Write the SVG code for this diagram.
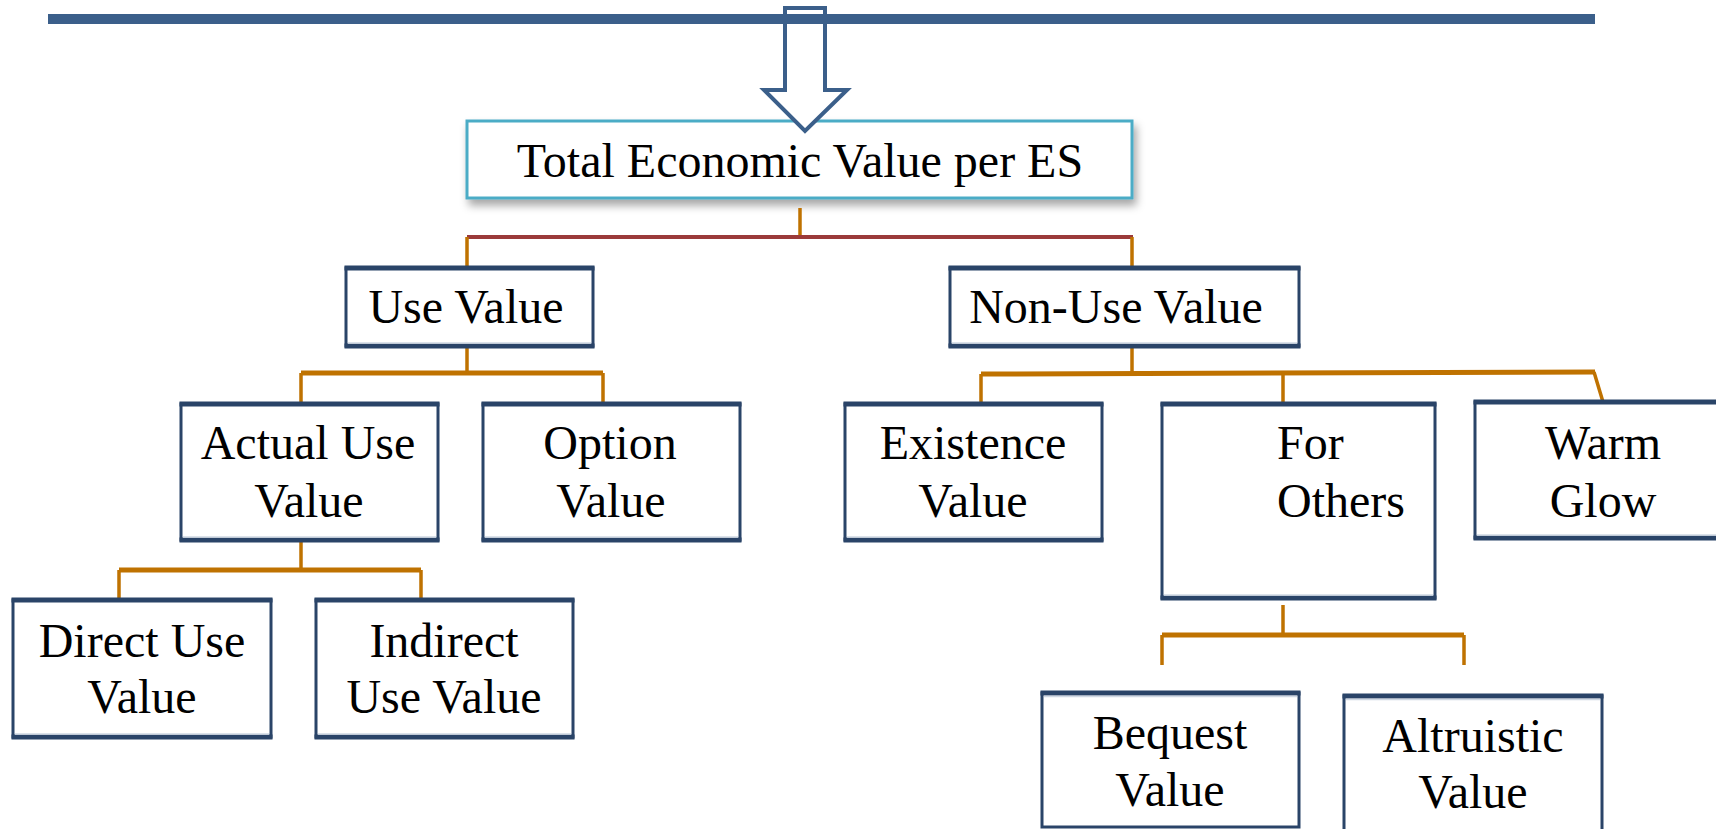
<svg xmlns="http://www.w3.org/2000/svg" width="1716" height="829" viewBox="0 0 1716 829">
  <defs>
    <filter id="shadow" x="-10%" y="-20%" width="120%" height="160%">
      <feDropShadow dx="3" dy="6" stdDeviation="4" flood-color="#000" flood-opacity="0.35"/>
    </filter>
    <style>
      text { font-family: "Liberation Serif", "Times New Roman", serif; font-size: 48px; fill: #000; }
      .c { text-anchor: middle; }
      .box { fill: #fff; stroke: #2a4468; stroke-width: 3; }
      .edge { stroke: #2a4468; stroke-width: 5; }
      .hl { stroke: #cfd8e3; stroke-width: 1.5; }
      .wire { fill: none; stroke: #bf7200; stroke-width: 3.5; }
      .bus { fill: none; stroke: #bf7200; stroke-width: 5; }
      .wire-top { fill: none; stroke: #9b3a3a; stroke-width: 4; }
    </style>
  </defs>
  <rect width="1716" height="829" fill="#fff"/>

  <!-- root node -->
  <g id="total">
    <rect x="467" y="121" width="665" height="77" fill="#fff" stroke="#4bacc6" stroke-width="3" filter="url(#shadow)"/>
    <text class="c" x="800" y="177">Total Economic Value per ES</text>
  </g>

  <!-- inflow arrow and header bar -->
  <g id="header">
    <path d="M785 8 H825 V90 H847 L805 131 L764 90 H785 Z" fill="#fff" stroke="#3b5f8a" stroke-width="4" stroke-linejoin="miter"/>
    <rect x="48" y="14" width="1547" height="10" fill="#3b5f8a"/>
    <line x1="789" y1="12.5" x2="821" y2="12.5" stroke="#fff" stroke-width="1.2"/>
  </g>

  <!-- connectors -->
  <g id="connectors">
    <path class="wire" d="M800 208 V237"/>
    <path class="wire-top" d="M467 237 H1133"/>
    <path class="wire" d="M467 237 V267 M1132 237 V267"/>

    <path class="wire" d="M467 347 V373"/>
    <path class="bus" d="M301 373 H603"/>
    <path class="wire" d="M301 373 V404 M603 373 V404"/>

    <path class="wire" d="M1132 347 V373"/>
    <path class="bus" d="M981 374 L1595 372"/>
    <path class="wire" d="M981 374 V404 M1283 373 V404 M1594 372 L1603 402"/>

    <path class="wire" d="M301 541 V570"/>
    <path class="bus" d="M119 570 H421"/>
    <path class="wire" d="M119 570 V600 M421 570 V600"/>

    <path class="wire" d="M1283 605 V635"/>
    <path class="bus" d="M1162 635 H1464"/>
    <path class="wire" d="M1162 635 V665 M1464 635 V665"/>
  </g>

  <!-- second level -->
  <g id="use-value">
    <rect class="box" x="346" y="268" width="247" height="78"/>
    <line class="edge" x1="344.5" y1="268" x2="594.5" y2="268"/>
    <line class="edge" x1="344.5" y1="346" x2="594.5" y2="346"/>
    <line class="hl" x1="348" y1="343" x2="591" y2="343"/>
    <text class="c" x="466" y="323">Use Value</text>
  </g>
  <g id="non-use-value">
    <rect class="box" x="950" y="268" width="349" height="78"/>
    <line class="edge" x1="948.5" y1="268" x2="1300.5" y2="268"/>
    <line class="edge" x1="948.5" y1="346" x2="1300.5" y2="346"/>
    <line class="hl" x1="952" y1="343" x2="1297" y2="343"/>
    <text class="c" x="1116" y="323">Non-Use Value</text>
  </g>

  <!-- third level -->
  <g id="actual-use-value">
    <rect class="box" x="181" y="404" width="257" height="136"/>
    <line class="edge" x1="179.5" y1="404" x2="439.5" y2="404"/>
    <line class="edge" x1="179.5" y1="540" x2="439.5" y2="540"/>
    <line class="hl" x1="183" y1="537" x2="436" y2="537"/>
    <text class="c" x="308" y="459">Actual Use</text>
    <text class="c" x="309" y="517">Value</text>
  </g>
  <g id="option-value">
    <rect class="box" x="483" y="404" width="257" height="136"/>
    <line class="edge" x1="481.5" y1="404" x2="741.5" y2="404"/>
    <line class="edge" x1="481.5" y1="540" x2="741.5" y2="540"/>
    <line class="hl" x1="485" y1="537" x2="738" y2="537"/>
    <text class="c" x="610" y="459">Option</text>
    <text class="c" x="611" y="517">Value</text>
  </g>
  <g id="existence-value">
    <rect class="box" x="845" y="404" width="257" height="136"/>
    <line class="edge" x1="843.5" y1="404" x2="1103.5" y2="404"/>
    <line class="edge" x1="843.5" y1="540" x2="1103.5" y2="540"/>
    <line class="hl" x1="847" y1="537" x2="1100" y2="537"/>
    <text class="c" x="973" y="459">Existence</text>
    <text class="c" x="973" y="517">Value</text>
  </g>
  <g id="for-others">
    <rect class="box" x="1162" y="404" width="273" height="194"/>
    <line class="edge" x1="1160.5" y1="404" x2="1436.5" y2="404"/>
    <line class="edge" x1="1160.5" y1="598" x2="1436.5" y2="598"/>
    <line class="hl" x1="1164" y1="595" x2="1433" y2="595"/>
    <text x="1277" y="459">For</text>
    <text x="1277" y="517">Others</text>
  </g>
  <g id="warm-glow">
    <rect class="box" x="1475" y="402" width="260" height="136"/>
    <line class="edge" x1="1473.5" y1="402" x2="1716" y2="402"/>
    <line class="edge" x1="1473.5" y1="538" x2="1716" y2="538"/>
    <line class="hl" x1="1477" y1="535" x2="1716" y2="535"/>
    <text class="c" x="1603" y="459">Warm</text>
    <text class="c" x="1603" y="517">Glow</text>
  </g>

  <!-- fourth level -->
  <g id="direct-use-value">
    <rect class="box" x="13" y="600" width="258" height="137"/>
    <line class="edge" x1="11.5" y1="600" x2="272.5" y2="600"/>
    <line class="edge" x1="11.5" y1="737" x2="272.5" y2="737"/>
    <line class="hl" x1="15" y1="734" x2="269" y2="734"/>
    <text class="c" x="142" y="657">Direct Use</text>
    <text class="c" x="142" y="713">Value</text>
  </g>
  <g id="indirect-use-value">
    <rect class="box" x="316" y="600" width="257" height="137"/>
    <line class="edge" x1="314.5" y1="600" x2="574.5" y2="600"/>
    <line class="edge" x1="314.5" y1="737" x2="574.5" y2="737"/>
    <line class="hl" x1="318" y1="734" x2="571" y2="734"/>
    <text class="c" x="444" y="657">Indirect</text>
    <text class="c" x="444" y="713">Use Value</text>
  </g>
  <g id="bequest-value">
    <rect class="box" x="1042" y="693" width="257" height="134"/>
    <line class="edge" x1="1040.5" y1="693" x2="1300.5" y2="693"/>
    <line class="hl" x1="1044" y1="696.5" x2="1297" y2="696.5"/>
    <text class="c" x="1170" y="749">Bequest</text>
    <text class="c" x="1170" y="806">Value</text>
  </g>
  <g id="altruistic-value">
    <rect class="box" x="1344" y="696" width="258" height="150"/>
    <line class="edge" x1="1342.5" y1="696" x2="1603.5" y2="696"/>
    <line class="hl" x1="1346" y1="699.5" x2="1600" y2="699.5"/>
    <text class="c" x="1473" y="752">Altruistic</text>
    <text class="c" x="1473" y="808">Value</text>
  </g>
</svg>
